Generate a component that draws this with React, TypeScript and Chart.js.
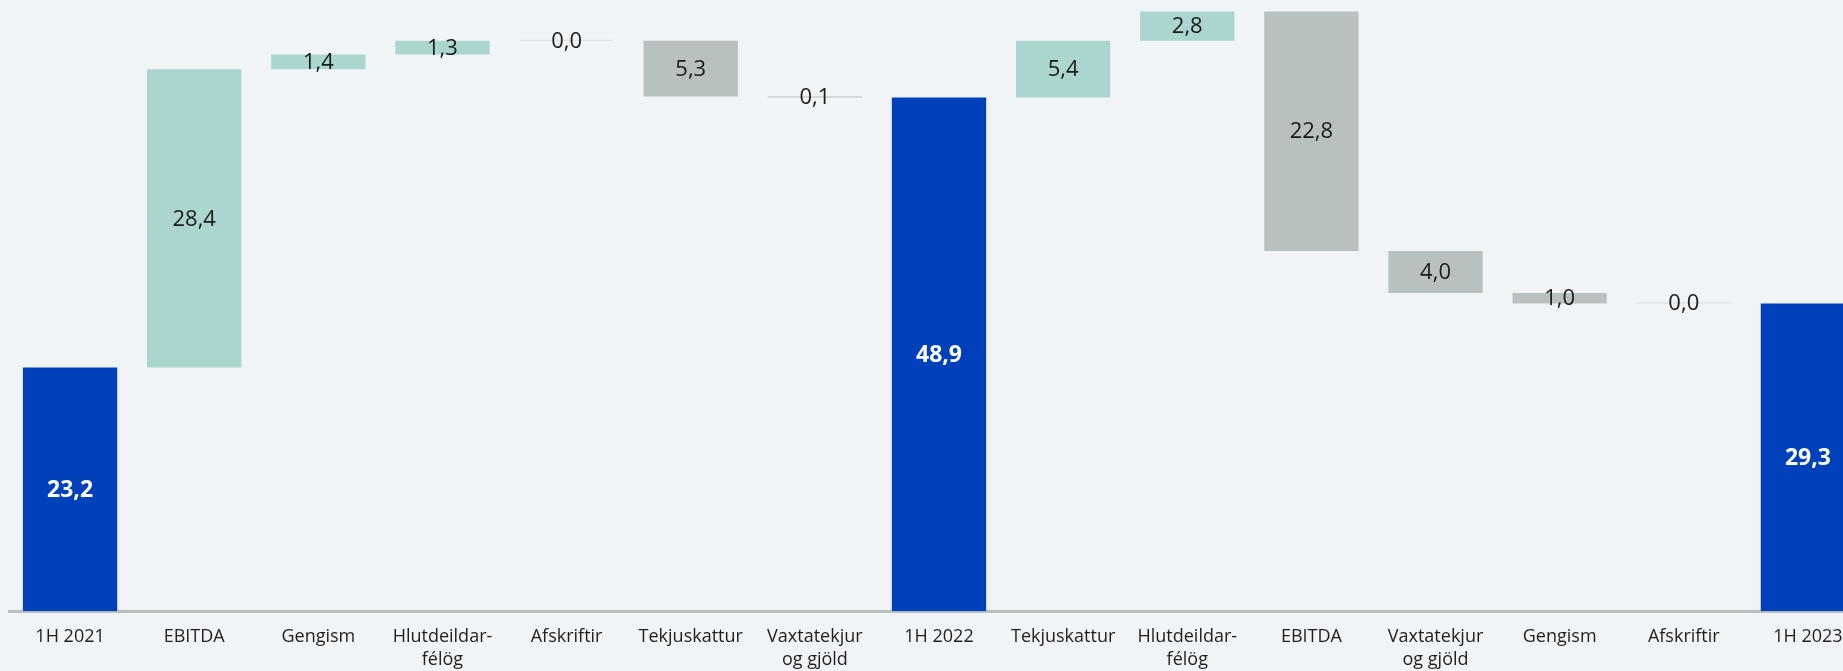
import React, { useEffect, useRef } from "react";
import { Chart, registerables } from "chart.js";

Chart.register(...registerables);

const categories: string[][] = [
  ["1H 2021"],
  ["EBITDA"],
  ["Gengism"],
  ["Hlutdeildar-", "félög"],
  ["Afskriftir"],
  ["Tekjuskattur"],
  ["Vaxtatekjur", "og gjöld"],
  ["1H 2022"],
  ["Tekjuskattur"],
  ["Hlutdeildar-", "félög"],
  ["EBITDA"],
  ["Vaxtatekjur", "og gjöld"],
  ["Gengism"],
  ["Afskriftir"],
  ["1H 2023"],
];

const changes = [23.2, 28.4, 1.4, 1.3, 0.0, -5.3, -0.1, 48.9, 5.4, 2.8, -22.8, -4.0, -1.0, 0.0, 29.3];
const isTotal = [true, false, false, false, false, false, false, true, false, false, false, false, false, false, true];
const valueLabels = ["23,2", "28,4", "1,4", "1,3", "0,0", "5,3", "0,1", "48,9", "5,4", "2,8", "22,8", "4,0", "1,0", "0,0", "29,3"];

const BLUE = "#0041bb";
const GREEN = "#aad6cf";
const GREY = "#b9c1bf";
const ZERO = "#d6dee2";
const BG = "#f1f4f7";

function buildRanges(): [number, number][] {
  const out: [number, number][] = [];
  let run = 0;
  changes.forEach((v, i) => {
    if (isTotal[i]) {
      out.push([0, v]);
      run = v;
    } else {
      const start = run;
      run = Math.round((run + v) * 10) / 10;
      out.push([start, run]);
    }
  });
  return out;
}

const labelPlugin = {
  id: "wfLabels",
  afterDatasetsDraw(chart: any) {
    const ctx = chart.ctx;
    const meta = chart.getDatasetMeta(0);
    ctx.save();
    ctx.textAlign = "center";
    ctx.textBaseline = "middle";
    meta.data.forEach((el: any, i: number) => {
      const p = el.getProps(["x", "y", "base"], true);
      const cy = (p.y + p.base) / 2;
      if (isTotal[i]) {
        ctx.fillStyle = "#ffffff";
        ctx.font = "bold 23px 'Open Sans'";
      } else {
        ctx.fillStyle = "#1b1b1b";
        ctx.font = "22px 'Open Sans'";
      }
      ctx.fillText(valueLabels[i], p.x, cy + 1);
    });
    ctx.restore();
  },
};

export default function App() {
  const ref = useRef<HTMLCanvasElement | null>(null);
  useEffect(() => {
    if (!ref.current) return;
    const ranges = buildRanges();
    const colors = changes.map((v, i) =>
      isTotal[i] ? BLUE : v > 0 ? GREEN : v < 0 ? GREY : ZERO
    );
    const chart = new Chart(ref.current, {
      type: "bar",
      data: {
        labels: categories,
        datasets: [
          {
            data: ranges,
            backgroundColor: colors,
            borderWidth: 0,
            minBarLength: 1,
            categoryPercentage: 1,
            barPercentage: 0.76,
          } as any,
        ],
      },
      options: {
        responsive: false,
        animation: false,
        layout: { padding: { top: 2, left: 0, right: 0, bottom: 0 } },
        plugins: {
          legend: { display: false },
          tooltip: { enabled: false },
        },
        scales: {
          x: {
            grid: { display: false, drawTicks: false },
            border: { display: true, color: "#b8c0bf", width: 3 },
            ticks: {
              color: "#1f1f1f",
              font: { family: "'Open Sans'", size: 18, lineHeight: 1.3 },
              padding: 14,
              maxRotation: 0,
              autoSkip: false,
            },
          },
          y: {
            display: false,
            min: 0,
            max: 58,
          },
        },
      },
      plugins: [labelPlugin],
    });
    return () => chart.destroy();
  }, []);

  return (
    <div
      style={{
        position: "fixed",
        left: 0,
        top: 0,
        width: "100vw",
        height: "100vh",
        overflow: "hidden",
        background: BG,
      }}
    >
      <canvas
        ref={ref}
        width={1862}
        height={686}
        style={{ position: "absolute", left: 8, top: 0, width: 1862, height: 686 }}
      />
    </div>
  );
}
